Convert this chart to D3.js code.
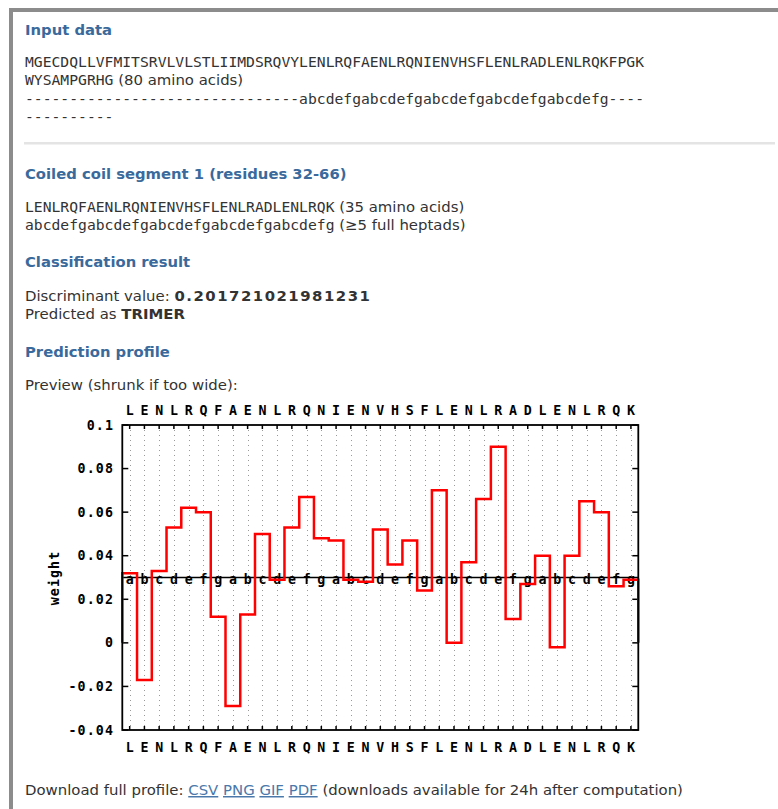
<!DOCTYPE html>
<html>
<head>
<meta charset="utf-8">
<script src="https://cdn.jsdelivr.net/npm/d3@7"></script>
<style>
  html, body { margin: 0; padding: 0; background: #fff; }
  svg { display: block; }
  .sans { font-family: "DejaVu Sans", Verdana, sans-serif; font-size: 14.9px; fill: #333; }
  .mono { font-family: "DejaVu Sans Mono", monospace; font-size: 14.7px; fill: #333; }
  .head { font-family: "DejaVu Sans", Verdana, sans-serif; font-size: 14.8px; font-weight: bold; fill: #3a6a9c; }
  .gp { font-family: "DejaVu Sans Mono", monospace; font-size: 13.3px; font-weight: bold; fill: #000; letter-spacing: 1.1px; }
  .link { fill: #4a78aa; text-decoration: underline; }
</style>
</head>
<body>
<div id="page"></div>
<script>
// ----- data
const residues = 'LENLRQFAENLRQNIENVHSFLENLRADLENLRQK'.split('');
const heptad = 'abcdefgabcdefgabcdefgabcdefgabcdefg'.split('');
const weights = [0.032, -0.017, 0.033, 0.053, 0.062, 0.060, 0.012, -0.029, 0.013, 0.050,
                 0.029, 0.053, 0.067, 0.048, 0.047, 0.029, 0.028, 0.052, 0.036, 0.047,
                 0.024, 0.070, 0.000, 0.037, 0.066, 0.090, 0.011, 0.027, 0.040, -0.002,
                 0.040, 0.065, 0.060, 0.026, 0.029];
const yTicks = [0.1, 0.08, 0.06, 0.04, 0.02, 0, -0.02, -0.04];
const yTickLabels = ['0.1', '0.08', '0.06', '0.04', '0.02', '0', '-0.02', '-0.04'];
const threshold = 0.03;

const W = 778, H = 809;
const svg = d3.select('#page').append('svg')
    .attr('width', W)
    .attr('height', H);

// ----- page frame
svg.append('rect').attr('x', 9).attr('y', 8).attr('width', W - 9).attr('height', 4).attr('fill', '#8c8c8c');
svg.append('rect').attr('x', 9).attr('y', 8).attr('width', 4).attr('height', H - 8).attr('fill', '#8c8c8c');
svg.append('rect').attr('x', 24).attr('y', 142).attr('width', 751).attr('height', 2.5).attr('fill', '#e4e4e4');

// ----- text blocks
const heading = (txt, y) => svg.append('text').attr('class', 'head').attr('x', 25).attr('y', y).text(txt);

heading('Input data', 35);
svg.append('text').attr('class', 'mono').attr('x', 25).attr('y', 67)
    .text('MGECDQLLVFMITSRVLVLSTLIIMDSRQVYLENLRQFAENLRQNIENVHSFLENLRADLENLRQKFPGK');
let t = svg.append('text').attr('x', 25).attr('y', 85.3);
t.append('tspan').attr('class', 'mono').text('WYSAMPGRHG');
t.append('tspan').attr('class', 'sans').text(' (80 amino acids)');
svg.append('text').attr('class', 'mono').attr('x', 25).attr('y', 103.6)
    .text('-'.repeat(31) + heptad.join('') + '----');
svg.append('text').attr('class', 'mono').attr('x', 25).attr('y', 121.9).text('-'.repeat(10));

heading('Coiled coil segment 1 (residues 32-66)', 179);
t = svg.append('text').attr('x', 25).attr('y', 212);
t.append('tspan').attr('class', 'mono').text(residues.join(''));
t.append('tspan').attr('class', 'sans').text(' (35 amino acids)');
t = svg.append('text').attr('x', 25).attr('y', 230);
t.append('tspan').attr('class', 'mono').text(heptad.join(''));
t.append('tspan').attr('class', 'sans').text(' (\u22655 full heptads)');

heading('Classification result', 267);
t = svg.append('text').attr('class', 'sans').attr('x', 25).attr('y', 301);
t.append('tspan').text('Discriminant value: ');
t.append('tspan').attr('font-weight', 'bold').attr('letter-spacing', '1.5px').text('0.201721021981231');
t = svg.append('text').attr('class', 'sans').attr('x', 25).attr('y', 318.5);
t.append('tspan').text('Predicted as ');
t.append('tspan').attr('font-weight', 'bold').text('TRIMER');

heading('Prediction profile', 357);
svg.append('text').attr('class', 'sans').attr('x', 25).attr('y', 390).text('Preview (shrunk if too wide):');

t = svg.append('text').attr('class', 'sans').attr('x', 25).attr('y', 795);
t.append('tspan').text('Download full profile: ');
['CSV', 'PNG', 'GIF', 'PDF'].forEach((f, i) => {
    if (i) t.append('tspan').text(' ');
    t.append('tspan').attr('class', 'link').text(f);
});
t.append('tspan').text(' (downloads available for 24h after computation)');

// ----- profile chart
const plot = { left: 122.3, right: 638.3, top: 425, bottom: 730 };

const xe = d3.scaleLinear().domain([0, residues.length]).range([plot.left, plot.right]);
const x = d3.scaleBand().domain(d3.range(residues.length)).range([plot.left, plot.right]).padding(0);
const y = d3.scaleLinear().domain([-0.04, 0.1]).range([plot.bottom, plot.top]);
const cx = i => x(i) + x.bandwidth() / 2;

const g = svg.append('g');

// dotted grid at each residue
g.selectAll('line.grid')
    .data(d3.range(residues.length))
    .join('line')
    .attr('class', 'grid')
    .attr('x1', d => Math.round(cx(d)) + 0.5).attr('x2', d => Math.round(cx(d)) + 0.5)
    .attr('y1', plot.top).attr('y2', plot.bottom)
    .attr('stroke', '#9a9a9a').attr('stroke-width', 1).attr('stroke-dasharray', '1,4');

// x ticks top and bottom
g.selectAll('line.xt')
    .data(d3.range(residues.length))
    .join('line')
    .attr('x1', d => cx(d)).attr('x2', d => cx(d))
    .attr('y1', plot.top).attr('y2', plot.top + 4)
    .attr('stroke', '#000').attr('stroke-width', 1.5);
g.selectAll('line.xb')
    .data(d3.range(residues.length))
    .join('line')
    .attr('x1', d => cx(d)).attr('x2', d => cx(d))
    .attr('y1', plot.bottom).attr('y2', plot.bottom - 4)
    .attr('stroke', '#000').attr('stroke-width', 1.5);

// y ticks left and right
yTicks.forEach((v, i) => {
    g.append('line').attr('x1', plot.left).attr('x2', plot.left + 6)
        .attr('y1', y(v)).attr('y2', y(v)).attr('stroke', '#000').attr('stroke-width', 1.5);
    g.append('line').attr('x1', plot.right).attr('x2', plot.right - 6)
        .attr('y1', y(v)).attr('y2', y(v)).attr('stroke', '#000').attr('stroke-width', 1.5);
    g.append('text').attr('class', 'gp').attr('x', 114).attr('y', y(v) + 4.5)
        .attr('text-anchor', 'end').text(yTickLabels[i]);
});

// residue letters above and below
g.selectAll('text.rt')
    .data(residues)
    .join('text')
    .attr('class', 'gp')
    .attr('x', (d, i) => cx(i) + 0.6).attr('y', 414.5)
    .attr('text-anchor', 'middle').text(d => d);
g.selectAll('text.rb')
    .data(residues)
    .join('text')
    .attr('class', 'gp')
    .attr('x', (d, i) => cx(i) + 0.6).attr('y', 751.5)
    .attr('text-anchor', 'middle').text(d => d);

// threshold line with heptad labels
g.append('line').attr('x1', plot.left).attr('x2', plot.right)
    .attr('y1', y(threshold)).attr('y2', y(threshold))
    .attr('stroke', '#000').attr('stroke-width', 1.5);
g.selectAll('text.hp')
    .data(heptad)
    .join('text')
    .attr('class', 'gp')
    .attr('x', (d, i) => cx(i) + 0.6).attr('y', y(threshold) + 6.5)
    .attr('text-anchor', 'middle').text(d => d);

// step profile
const pts = [[0, 0]];
weights.forEach((w, i) => { pts.push([i, w]); pts.push([i + 1, w]); });
pts.push([residues.length, 0]);

g.append('path')
    .datum(pts)
    .attr('fill', 'none')
    .attr('stroke', '#ff0000')
    .attr('stroke-width', 2.5)
    .attr('d', d3.line().x(d => xe(d[0])).y(d => y(d[1])));

// frame
g.append('rect')
    .attr('x', plot.left).attr('y', plot.top)
    .attr('width', plot.right - plot.left).attr('height', plot.bottom - plot.top)
    .attr('fill', 'none').attr('stroke', '#000').attr('stroke-width', 1.8);

// y label
g.append('text').attr('class', 'gp')
    .attr('transform', 'translate(59,578) rotate(-90)')
    .attr('text-anchor', 'middle').text('weight');
</script>
</body>
</html>
